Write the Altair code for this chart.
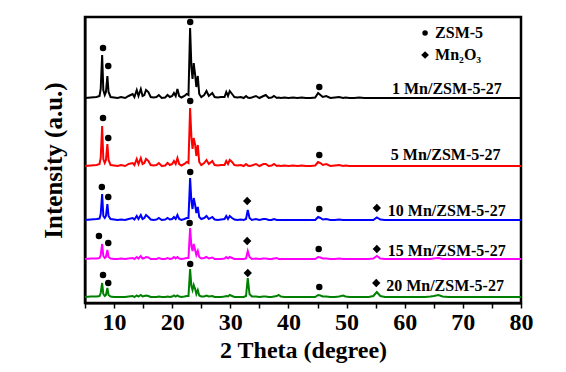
import altair as alt
import pandas as pd

# 2-theta grid (degree)
two_theta = [
    5.0, 6.0, 7.0, 7.5, 7.7, 7.95, 8.15, 8.4, 8.6, 8.85,
    9.05, 9.4, 10.0, 10.6, 11.2, 11.9, 12.5, 13.2, 13.5, 13.9,
    14.2, 14.6, 14.9, 15.2, 15.5, 15.9, 16.3, 16.8, 17.3, 17.7,
    18.2, 18.8, 19.2, 19.6, 20.0, 20.3, 20.6, 20.9, 21.2, 21.6,
    22.1, 22.5, 22.8, 23.08, 23.3, 23.5, 23.7, 23.95, 24.15, 24.4,
    24.65, 25.0, 25.5, 25.9, 26.3, 26.9, 27.3, 27.8, 28.4, 29.0,
    29.3, 29.6, 29.9, 30.3, 30.7, 31.2, 31.8, 32.3, 32.7, 33.0,
    33.3, 33.7, 34.4, 35.0, 35.7, 36.1, 36.6, 37.1, 37.5, 38.0,
    38.3, 38.7, 39.3, 40.0, 40.8, 41.5, 42.3, 43.0, 43.8, 44.6,
    45.1, 45.5, 45.9, 46.5, 47.2, 48.0, 48.7, 49.4, 49.8, 50.5,
    51.3, 52.2, 53.0, 53.8, 54.6, 55.2, 55.8, 56.6, 57.5, 58.5,
    59.5, 60.5, 61.5, 62.5, 63.5, 64.4, 65.0, 65.8, 66.5, 67.5,
    68.5, 69.5, 70.5, 72.0, 73.5, 75.0, 76.5, 78.0, 80.0,
]

i_1mn = [
    1, 1.5, 2, 3, 10, 44, 9, 4, 7, 23,
    7, 2, 1.5, 1, 2, 1, 3, 5, 2, 9,
    3, 10, 3, 4, 9, 7, 2, 1.5, 2, 4,
    1, 1.5, 4, 2, 3, 6, 3, 10, 3, 1.5,
    3, 5, 4, 71, 32, 20, 36, 24, 12, 23,
    5, 2, 4, 8, 3, 6, 2, 1.5, 2, 2,
    7, 3, 8, 5, 2, 1.5, 2, 1, 3, 1.5,
    1, 1.5, 3, 1, 3, 4, 1, 1.5, 3, 1,
    1.5, 1, 1.5, 1, 1.5, 1, 1.5, 1, 1, 1.5,
    6, 4, 2, 3, 1, 1.5, 2, 1, 1.5, 1,
    1, 1.5, 1, 1, 1, 1, 1, 1, 1, 1,
    1, 1, 1, 1, 1, 1, 1, 1, 1, 1,
    1, 1, 1, 1, 1, 1, 1, 1, 1,
]
i_5mn = [
    1, 1.5, 2, 3, 9, 41, 8, 4, 7, 23,
    7, 2, 1.5, 1, 2, 1, 3, 4, 2, 8,
    3, 9, 3, 4, 8, 6, 2, 1.5, 2, 4,
    1, 1.5, 4, 2, 3, 6, 3, 9, 3, 1.5,
    3, 5, 4, 59, 30, 18, 29, 22, 11, 22,
    5, 2, 4, 7, 3, 6, 2, 1.5, 2, 2,
    6, 3, 7, 5, 2, 1.5, 2, 1, 3, 1.5,
    1, 1.5, 3, 1, 3, 3, 1, 1.5, 3, 1,
    1.5, 1, 1.5, 1, 1.5, 1, 1.5, 1, 1, 1.5,
    5, 4, 2, 3, 1, 1.5, 2, 1, 1.5, 1,
    1, 1, 1, 1, 1, 1, 1, 1, 1, 1,
    1, 1, 1, 1, 1, 1, 1, 1, 1, 1,
    1, 1, 1, 1, 1, 1, 1, 1, 1,
]
i_10mn = [
    1, 1.5, 2, 2.5, 7, 27, 5, 3, 5, 17,
    5, 2, 1.5, 1, 1.5, 1, 2, 3, 1.5, 5,
    2, 6, 2, 3, 6, 4, 1.5, 1, 1.5, 3,
    1, 1.5, 3, 1.5, 2, 4, 2, 6, 2, 1,
    2, 3, 3, 43, 20, 12, 23, 16, 8, 14,
    4, 2, 3, 5, 2, 4, 1.5, 1, 1.5, 2,
    5, 2, 5, 3, 1.5, 1, 1.5, 1, 2, 11,
    3, 1, 2, 1, 2, 2, 1, 1, 2, 1,
    1, 1, 1, 1, 1, 1, 1, 1, 1, 1,
    4, 3, 1.5, 2, 1, 1, 1.5, 1, 1, 1,
    1, 1, 1, 1, 1, 3.5, 1.5, 1, 1, 1,
    1, 1, 1, 1, 1, 1, 1, 1, 1, 1,
    1, 1, 1, 1, 1, 1, 1, 1, 1,
]
i_15mn = [
    1, 1.5, 1.5, 2, 5, 16, 4, 2, 3, 10,
    3, 1.5, 1, 1, 1.5, 1, 1.5, 2, 1, 3,
    1.5, 4, 1.5, 2, 3, 2.5, 1, 1, 1, 2,
    1, 1, 2, 1, 1.5, 3, 1.5, 3, 1.5, 1,
    1.5, 2, 2, 32, 14, 9, 16, 10, 5, 9,
    3, 1.5, 2, 3, 1.5, 2.5, 1, 1, 1, 1.5,
    3, 1.5, 3, 2, 1, 1, 1, 1, 1.5, 9,
    3, 1, 1.5, 1, 1.5, 1.5, 1, 1, 1.5, 2,
    1, 1, 1, 1, 1, 1, 1, 1, 1, 1,
    3, 2.5, 1.5, 1.5, 1, 1, 1.5, 1, 1, 1,
    1, 1, 1, 1, 1.5, 4, 1.5, 1, 1, 1,
    1, 1, 1, 1, 1, 1, 1.5, 2, 1, 1,
    1, 1, 1, 1, 1, 1, 1, 1, 1,
]
i_20mn = [
    1, 1.5, 1.5, 2, 5, 15, 4, 2, 3, 10,
    3, 1.5, 1, 1, 1, 1, 1.5, 2, 1, 2.5,
    1.5, 3, 1.5, 2, 2.5, 2, 1, 1, 1, 1.5,
    1, 1, 1.5, 1, 1.5, 2.5, 1.5, 2.5, 1.5, 1,
    1.5, 2, 2, 29, 12, 8, 13, 9, 4, 8,
    2.5, 1.5, 1.5, 2.5, 1.5, 2, 1, 1, 1, 1.5,
    2, 1.5, 3, 2, 1, 1, 1, 1, 2, 20,
    4, 1.5, 1.5, 1, 1.5, 1.5, 1, 1, 1.5, 2,
    3, 1.5, 1, 1, 1, 1, 1, 1, 1, 1,
    3, 2.5, 1.5, 1.5, 1, 1, 1.5, 2.5, 1.5, 1,
    1, 1, 1, 1, 2, 6, 2, 1, 1, 1,
    1, 1, 1, 1, 1, 1.5, 2, 3, 1.5, 1,
    1, 1, 1, 1, 1, 1, 1, 1, 1,
]

series_names = ["1 Mn/ZSM-5-27", "5 Mn/ZSM-5-27", "10 Mn/ZSM-5-27",
                "15 Mn/ZSM-5-27", "20 Mn/ZSM-5-27"]
series_colors = ["#000000", "#ff0000", "#0000ff", "#ff00ff", "#008000"]
series_offsets = [204, 136, 82, 43, 5]
series_values = [i_1mn, i_5mn, i_10mn, i_15mn, i_20mn]

# peak markers: (2theta, intensity position)
zsm_theta = [8.1, 9.0, 23.1, 45.3,
             8.1, 9.0, 23.1, 45.3,
             7.9, 9.0, 23.1, 45.3,
             7.4, 9.0, 23.0, 45.2,
             8.1, 9.0, 23.1, 45.3]
zsm_int = [255, 237, 281, 216,
           185, 165, 202, 148,
           116, 106, 131, 94,
           67, 60, 80, 54,
           28, 20, 39, 16]
mn_theta = [32.9, 55.2, 32.9, 55.2, 33.0, 55.1]
mn_int = [102, 95, 62, 54, 30, 20]

label_theta = [57.8, 57.6, 57.1, 57.1, 56.8]
label_int = [214, 148, 92, 52, 17]

legend_text = ["ZSM-5", "Mn\u2082O\u2083"]
legend_theta = [63.5, 63.5]
legend_int = [270, 248]

x_ticks = [5, 10, 15, 20, 25, 30, 35, 40, 45, 50, 55, 60, 65, 70, 75, 80]

rows = []
for name, off, vals in zip(series_names, series_offsets, series_values):
    for t, v in zip(two_theta, vals):
        rows.append({"theta": t, "intensity": v + off, "series": name})
curves = pd.DataFrame(rows)

zsm_df = pd.DataFrame({"theta": zsm_theta, "intensity": zsm_int})
mn_df = pd.DataFrame({"theta": mn_theta, "intensity": mn_int})
lab_df = pd.DataFrame({"theta": label_theta, "intensity": label_int, "text": series_names})
leg_df = pd.DataFrame({"theta": legend_theta, "intensity": legend_int, "text": legend_text})

FONT = "Liberation Serif"

x_enc = alt.X(
    "theta:Q",
    scale=alt.Scale(domain=[5, 80], nice=False),
    axis=alt.Axis(values=x_ticks, labelOverlap=False,
                  labelExpr="datum.value % 10 === 0 ? datum.label : ''",
                  title="2 Theta (degree)", grid=False, tickSize=5, tickWidth=1.5,
                  tickColor="black", domainColor="black", domainWidth=2,
                  labelFont=FONT, labelFontWeight="bold", labelFontSize=24,
                  labelColor="black", labelPadding=2, labelFlush=False,
                  titleFont=FONT, titleFontWeight="bold", titleFontSize=24,
                  titleColor="black", titlePadding=4),
)
y_enc = alt.Y(
    "intensity:Q",
    scale=alt.Scale(domain=[0, 286], nice=False),
    axis=alt.Axis(title="Intensity (a.u.)", labels=False, ticks=False, grid=False,
                  domainColor="black", domainWidth=2,
                  titleFont=FONT, titleFontWeight="bold", titleFontSize=25,
                  titleColor="black", titlePadding=19),
)

lines = alt.Chart(curves).mark_line(strokeWidth=2, interpolate="linear").encode(
    color=alt.Color("series:N", scale=alt.Scale(domain=series_names, range=series_colors),
                    legend=None),
    detail="series:N",
)
circles = alt.Chart(zsm_df).mark_point(shape="circle", filled=True, size=42,
                                       color="black", opacity=1)
diamonds = alt.Chart(mn_df).mark_point(shape="diamond", filled=True, size=70,
                                       color="black", opacity=1)
labels = alt.Chart(lab_df).mark_text(align="left", baseline="middle", font=FONT,
                                     fontWeight="bold", fontSize=16,
                                     color="black").encode(text="text:N")
leg_c = alt.Chart(leg_df.iloc[[0]]).mark_point(shape="circle", filled=True, size=30,
                                               color="black", opacity=1)
leg_d = alt.Chart(leg_df.iloc[[1]]).mark_point(shape="diamond", filled=True, size=60,
                                               color="black", opacity=1)
leg_t = alt.Chart(leg_df).mark_text(align="left", baseline="middle", font=FONT,
                                    fontWeight="bold", fontSize=16, color="black",
                                    dx=10).encode(text="text:N")

chart = alt.layer(lines, circles, diamonds, labels, leg_c, leg_d, leg_t).encode(
    x=x_enc, y=y_enc
).properties(
    width=436, height=286,
    padding={"left": 77, "top": 9, "right": 30, "bottom": 60},
    autosize=alt.AutoSizeParams(type="none"),
    background="white",
).configure_view(stroke="black", strokeWidth=2.5)

chart.save("out.html", embed_options={"renderer": "svg", "actions": False})
